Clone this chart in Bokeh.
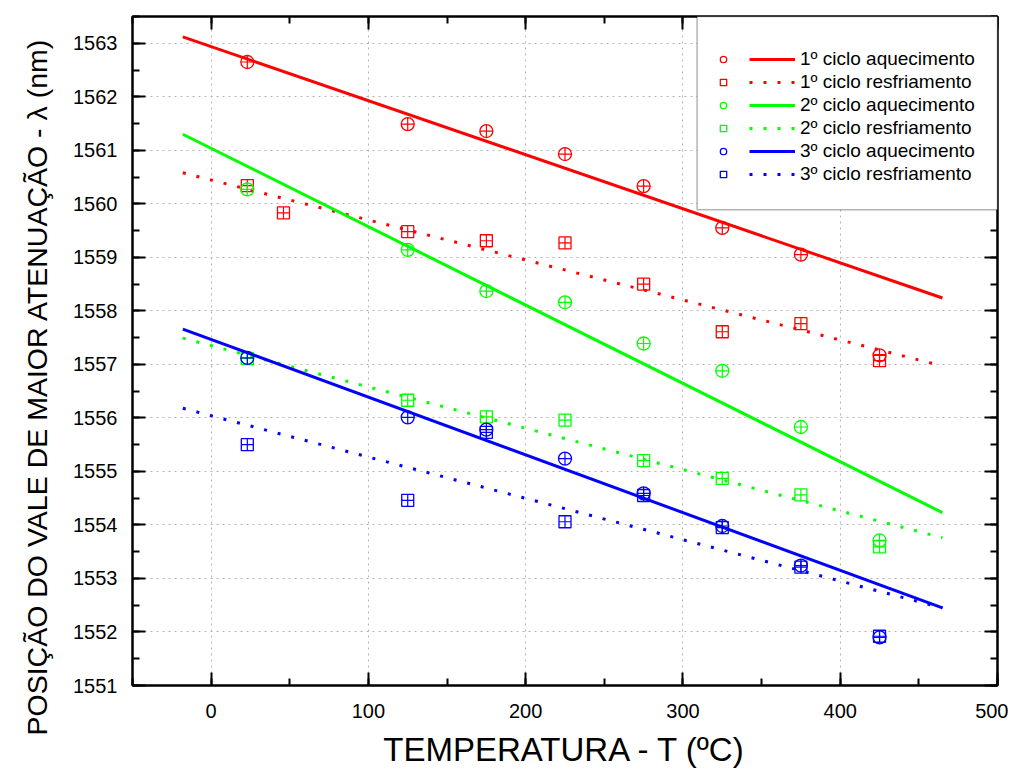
from bokeh.plotting import figure
from bokeh.models import (LinearAxis, SingleIntervalTicker, Range1d, Legend, LegendItem,
                          BoxAnnotation, ColumnDataSource, Title)
from bokeh.embed import file_html
from bokeh.resources import INLINE

# ---------------- data ----------------
temps_heat = [23, 125, 175, 225, 275, 325, 375, 425]
temps_cool1 = [425, 375, 325, 275, 225, 175, 125, 46, 23]
temps_cool = [425, 375, 325, 275, 225, 175, 125, 23]

heat1 = [1562.65, 1561.49, 1561.36, 1560.93, 1560.33, 1559.55, 1559.05, 1557.17]
cool1 = [1557.07, 1557.76, 1557.61, 1558.50, 1559.27, 1559.31, 1559.48, 1559.83, 1560.34]
heat2 = [1560.27, 1559.14, 1558.37, 1558.16, 1557.39, 1556.88, 1555.83, 1553.71]
cool2 = [1553.59, 1554.56, 1554.87, 1555.20, 1555.96, 1556.02, 1556.33, 1557.11]
heat3 = [1557.12, 1556.01, 1555.78, 1555.24, 1554.59, 1553.98, 1553.24, 1551.90]
cool3 = [1551.92, 1553.21, 1553.95, 1554.55, 1554.06, 1555.73, 1554.46, 1555.50]

fit_x = [-18, 465]
fit_heat1 = [1563.12, 1558.24]
fit_cool1 = [1560.58, 1556.97]
fit_heat2 = [1561.30, 1554.23]
fit_cool2 = [1557.49, 1553.76]
fit_heat3 = [1557.66, 1552.45]
fit_cool3 = [1556.18, 1552.45]

labels = ["1º ciclo aquecimento", "1º ciclo resfriamento",
          "2º ciclo aquecimento", "2º ciclo resfriamento",
          "3º ciclo aquecimento", "3º ciclo resfriamento"]

x_title = "TEMPERATURA - T (ºC)"
y_title = "POSIÇÃO DO VALE DE MAIOR ATENUAÇÃO - λ (nm)"

RED, GREEN, BLUE = "#ff0000", "#00ff00", "#0000ff"
FONT = "Liberation Sans"

series = [
    (temps_heat, heat1, fit_heat1, RED, "circle", "solid"),
    (temps_cool1, cool1, fit_cool1, RED, "square", "3 11"),
    (temps_heat, heat2, fit_heat2, GREEN, "circle", "solid"),
    (temps_cool, cool2, fit_cool2, GREEN, "square", "3 11"),
    (temps_heat, heat3, fit_heat3, BLUE, "circle", "solid"),
    (temps_cool, cool3, fit_cool3, BLUE, "square", "3 11"),
]

p = figure(width=1008, height=774, output_backend="svg", toolbar_location=None,
           x_range=Range1d(-50, 500), y_range=Range1d(1551, 1563.5),
           min_border_left=132, min_border_right=11, min_border_top=16,
           min_border_bottom=89)
p.background_fill_color = "white"
p.border_fill_color = "white"
p.outline_line_color = "black"
p.outline_line_width = 2

xt = SingleIntervalTicker(interval=100, num_minor_ticks=2)
yt = SingleIntervalTicker(interval=1, num_minor_ticks=2)


def style_axis(ax, show_labels=True):
    ax.axis_line_color = "black"
    ax.axis_line_width = 2
    ax.major_tick_line_color = "black"
    ax.major_tick_line_width = 2
    ax.minor_tick_line_color = "black"
    ax.minor_tick_line_width = 2
    ax.major_tick_in = 13
    ax.major_tick_out = 0
    ax.minor_tick_in = 7
    ax.minor_tick_out = 0
    ax.major_label_text_font = FONT
    ax.major_label_text_font_size = "20px" if show_labels else "1px"
    ax.major_label_text_color = "black"
    if not show_labels:
        ax.major_label_text_alpha = 0
        ax.major_label_standoff = 0


p.xaxis.ticker = xt
p.yaxis.ticker = yt
style_axis(p.xaxis[0])
style_axis(p.yaxis[0])
p.xaxis.major_label_standoff = 18
p.yaxis.major_label_standoff = 15
p.xaxis.axis_label = x_title
p.xaxis.axis_label_text_font = FONT
p.xaxis.axis_label_text_font_size = "33px"
p.xaxis.axis_label_text_font_style = "normal"
p.xaxis.axis_label_text_color = "black"
p.xaxis.axis_label_standoff = 10

ytitle = Title(text=y_title, align="left", offset=-50, standoff=36,
               text_font=FONT, text_font_size="28.5px", text_font_style="normal",
               text_color="black")
p.add_layout(ytitle, "left")

top_ax = LinearAxis(ticker=SingleIntervalTicker(interval=100, num_minor_ticks=2))
right_ax = LinearAxis(ticker=SingleIntervalTicker(interval=1, num_minor_ticks=2))
style_axis(top_ax, False)
style_axis(right_ax, False)
p.add_layout(top_ax, "above")
p.add_layout(right_ax, "right")

p.xgrid.ticker = xt
p.ygrid.ticker = yt
for g in (p.xgrid[0], p.ygrid[0]):
    g.grid_line_color = "#b4b4b4"
    g.grid_line_dash = "2 4"
    g.grid_line_width = 1

line_items = []
marker_items = []
for (xs, ys, fy, color, marker, dash), lab in zip(series, labels):
    src = ColumnDataSource(dict(x=xs, y=ys))
    size = 13 if marker == "circle" else 12
    lr = p.line(x=fit_x, y=fy, line_color=color, line_width=3, line_dash=dash)
    mr = p.scatter(x="x", y="y", source=src, marker=marker, size=size,
                   fill_alpha=0, line_color=color, line_width=1.3)
    p.scatter(x="x", y="y", source=src, marker="cross", size=size,
              line_color=color, line_width=1.2)
    line_items.append(LegendItem(label=lab, renderers=[lr]))
    marker_items.append(LegendItem(label=" ", renderers=[mr]))

box = BoxAnnotation(left=309, right=500, top=1563.5, bottom=1559.89,
                    fill_color="white", fill_alpha=1.0,
                    line_color="black", line_width=1.5)
p.add_layout(box)

common = dict(border_line_color=None, background_fill_alpha=0, padding=0, margin=0,
              spacing=1, glyph_height=22, label_height=22,
              label_text_font=FONT, label_text_font_size="19px",
              label_text_color="black")
leg_m = Legend(items=marker_items, location=(583, 500), glyph_width=16, **common)
leg_l = Legend(items=line_items, location=(617, 500), glyph_width=46,
               label_standoff=5, **common)
p.add_layout(leg_m)
p.add_layout(leg_l)

open("out.html", "w").write(file_html(p, INLINE))
